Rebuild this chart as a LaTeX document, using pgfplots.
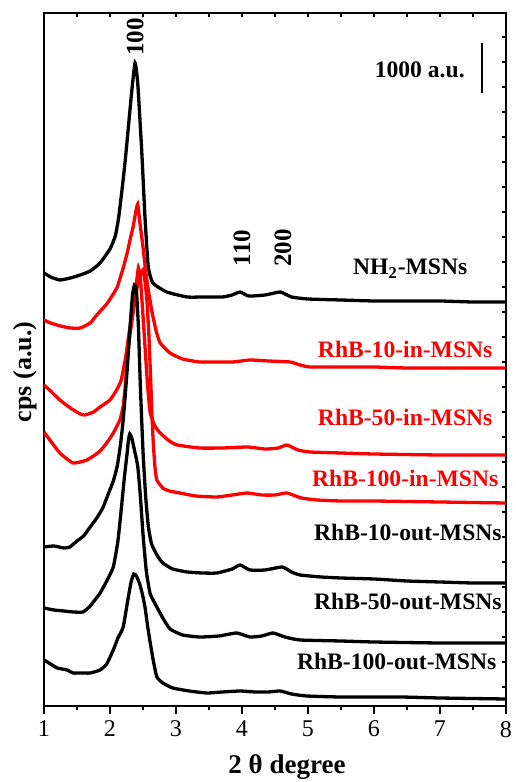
\documentclass[border=0pt]{standalone}
\usepackage{fontspec}
\setmainfont{Liberation Serif}
\usepackage{pgfplots}
\pgfplotsset{compat=1.18}

\tikzset{
  lab/.style={font=\fontsize{11.8}{14}\selectfont\bfseries, inner sep=0pt},
  pk/.style={font=\fontsize{12.5}{14}\selectfont\bfseries, inner sep=0pt, rotate=90},
}

\begin{document}
\begin{tikzpicture}
\path[use as bounding box] (-22pt,-38pt) rectangle (235.5pt,353pt);
% tick marks on top and right
\begin{axis}[
    at={(0pt,0pt)}, anchor=south west,
    width=231pt, height=346.5pt, scale only axis,
    xmin=1, xmax=8, ymin=0, ymax=693,
    axis line style={draw=none},
    xtick pos=top, ytick pos=right, tick align=inside,
    xtick={1.5,2,...,7.5}, ytick={19,44,...,669},
    xticklabels={}, yticklabels={},
    major tick length=2pt, tick style={line width=0.6pt, black},
]
\end{axis}
\begin{axis}[
    at={(0pt,0pt)}, anchor=south west,
    width=231pt, height=346.5pt, scale only axis,
    xmin=1, xmax=8, ymin=0, ymax=693,
    xtick={1,...,8}, minor xtick={1.5,2.5,...,7.5},
    ytick=\empty, minor ytick={19,44,...,669},
    xtick pos=bottom, ytick pos=left, tick align=outside,
    major tick length=4pt, minor tick length=2pt,
    tick style={line width=0.7pt, black},
    axis line style={line width=0.9pt},
    /pgf/number format/assume math mode=true,
    ticklabel style={font=\fontsize{12}{14}\selectfont},
    xlabel={\textbf{2 θ degree}},
    ylabel={\textbf{cps (a.u.)}},
    xlabel style={at={(axis description cs:0.526,-0.088)}, anchor=center,
                  font=\fontsize{13.5}{15}\selectfont},
    ylabel style={at={(axis description cs:-0.041,0.482)}, anchor=center,
                  font=\fontsize{13}{15}\selectfont},
    every axis plot/.append style={line width=1.65pt, smooth, tension=0.3},
]
% NH2-MSNs
\addplot[black] coordinates {
 (1.00,433)(1.10,429)(1.24,426)(1.40,428)(1.55,431)(1.70,435)(1.85,443)
 (2.00,457)(2.08,470)(2.13,488)(2.18,515)(2.23,545)(2.28,580)(2.33,615)(2.38,643)
 (2.42,623)(2.48,556)(2.53,489)(2.58,439)(2.65,423)(2.86,414)(3.17,409)
 (3.40,409)(3.70,409)(3.85,411)(3.97,414)(4.10,410)(4.35,411)(4.58,414)
 (4.75,409)(5.00,407)(5.50,406)(6.00,405)(6.50,405)(7.00,405)(7.50,404)(8.00,404)
};
% RhB-10-in-MSNs
\addplot[red] coordinates {
 (1.00,386)(1.10,383)(1.25,380)(1.40,378)(1.55,378)(1.70,383)(1.80,391)
 (1.95,402)(2.05,412)(2.11,419)(2.20,438)(2.26,453)(2.31,468)(2.35,479)
 (2.39,494)(2.42,502)(2.45,485)(2.50,459)(2.54,435)(2.58,416)(2.64,393)
 (2.70,375)(2.76,363)(2.91,353)(3.10,347)(3.36,344)(3.60,344)(3.86,344)
 (4.12,346)(4.40,345)(4.73,344)(4.88,341)(5.03,339)(5.50,339)(6.00,339)
 (6.50,338)(7.00,338)(7.50,338)(8.00,338)
};
% RhB-50-in-MSNs
\addplot[red] coordinates {
 (1.00,321)(1.10,315)(1.24,306)(1.40,298)(1.55,292)(1.62,291)(1.75,294)
 (1.85,299)(2.00,306)(2.10,316)(2.17,326)(2.24,350)(2.30,378)(2.34,395)
 (2.38,415)(2.41,428)(2.43,438)(2.46,428)(2.49,400)(2.53,360)(2.57,320)
 (2.61,293)(2.68,280)(2.76,273)(2.90,265)(3.02,261)(3.36,258)(3.70,258)
 (4.08,259)(4.35,257)(4.55,258)(4.68,261)(4.85,256)(5.03,254)(5.50,253)
 (6.00,252)(7.00,251)(8.00,251)
};
% RhB-100-in-MSNs
\addplot[red] coordinates {
 (1.00,274)(1.10,265)(1.24,253)(1.35,247)(1.44,243)(1.55,244)(1.65,246)
 (1.75,250)(1.85,255)(1.95,263)(2.05,273)(2.15,286)(2.20,300)(2.23,319)
 (2.26,346)(2.30,370)(2.35,393)(2.40,415)(2.45,429)(2.50,436)(2.53,425)
 (2.56,405)(2.59,370)(2.62,320)(2.65,270)(2.68,240)(2.71,226)(2.80,218)
 (2.90,215)(3.06,213)(3.30,210)(3.62,209)(3.85,211)(4.08,213)(4.30,211)
 (4.50,211)(4.68,213)(4.90,208)(5.14,206)(5.50,205)(6.00,205)(7.00,204)(8.00,203)
};
% RhB-10-out-MSNs
\addplot[black] coordinates {
 (1.00,159)(1.15,160)(1.30,158)(1.39,159)(1.50,165)(1.60,170)(1.70,179)
 (1.80,188)(1.89,198)(1.95,208)(2.05,225)(2.11,240)(2.16,262)(2.20,286)
 (2.23,310)(2.26,336)(2.30,375)(2.34,410)(2.37,421)(2.40,415)(2.43,380)
 (2.46,320)(2.50,255)(2.54,210)(2.58,180)(2.63,162)(2.72,150)(2.80,143)
 (2.95,137)(3.17,134)(3.40,133)(3.62,133)(3.85,137)(3.97,141)(4.12,136)
 (4.35,136)(4.61,139)(4.75,134)(4.88,131)(5.20,129)(5.50,128)(6.00,127)
 (6.50,125)(7.00,124)(7.50,123)(8.00,123)
};
% RhB-50-out-MSNs
\addplot[black] coordinates {
 (1.00,98)(1.15,96)(1.30,95)(1.45,94)(1.59,94)(1.70,100)(1.85,113)
 (1.95,125)(2.05,139)(2.12,165)(2.18,203)(2.22,230)(2.26,253)(2.28,266)
 (2.30,272)(2.33,268)(2.37,256)(2.42,240)(2.46,210)(2.50,172)(2.55,135)
 (2.61,112)(2.71,99)(2.80,88)(2.91,77)(3.10,71)(3.36,69)(3.65,70)
 (3.92,73)(4.12,69)(4.30,70)(4.47,73)(4.65,69)(4.88,66)(5.50,65)
 (6.00,64)(7.00,63)(8.00,63)
};
% RhB-100-out-MSNs
\addplot[black] coordinates {
 (1.00,46)(1.10,42)(1.20,38)(1.35,36)(1.44,33)(1.55,33)(1.70,33)
 (1.85,36)(1.95,42)(2.05,56)(2.12,68)(2.20,79)(2.27,106)(2.32,124)
 (2.36,132)(2.40,130)(2.45,122)(2.49,112)(2.53,99)(2.57,80)(2.61,63)
 (2.66,44)(2.71,29)(2.80,23)(2.95,18)(3.20,15)(3.47,13)(3.70,14)
 (3.97,15)(4.20,14)(4.40,14)(4.58,15)(4.75,12)(4.98,10)(5.50,9)
 (6.40,9)(7.00,8)(8.00,7)
};

% peak indices
\node[pk] at (axis cs:2.38,669) {100};
\node[pk] at (axis cs:4.00,458) {110};
\node[pk] at (axis cs:4.62,458) {200};

% scale bar
\draw[line width=1pt] (axis cs:7.64,613) -- (axis cs:7.64,663);
\node[lab, anchor=base east] at (axis cs:7.38,628) {1000 a.u.};

% sample names
\node[lab, anchor=base east] at (axis cs:7.42,431) {NH\textsubscript{2}-MSNs};
\node[lab, anchor=base east, text=red] at (axis cs:7.80,348) {RhB-10-in-MSNs};
\node[lab, anchor=base east, text=red] at (axis cs:7.80,280) {RhB-50-in-MSNs};
\node[lab, anchor=base east, text=red] at (axis cs:7.89,219) {RhB-100-in-MSNs};
\node[lab, anchor=base east] at (axis cs:7.94,165) {RhB-10-out-MSNs};
\node[lab, anchor=base east] at (axis cs:7.94,97) {RhB-50-out-MSNs};
\node[lab, anchor=base east] at (axis cs:7.86,36) {RhB-100-out-MSNs};
\end{axis}
\end{tikzpicture}
\end{document}
